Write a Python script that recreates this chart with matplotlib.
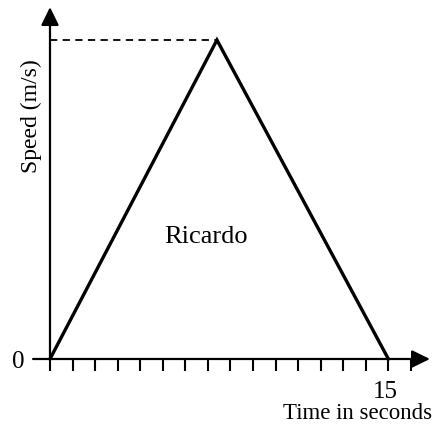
import matplotlib
matplotlib.use('Agg')
import matplotlib.pyplot as plt

# data (speed scale unknown, peak set to 10)
times = [0, 7.4, 15]
speeds = [0, 10, 0]
tick_pos = list(range(0, 17))
peak_t = times[1]
peak_v = speeds[1]

plt.rcParams['font.family'] = ['Liberation Serif', 'DejaVu Serif']

fig = plt.figure(figsize=(4.35, 4.24), dpi=100)
ax = fig.add_axes([0, 0, 1, 1])
ax.set_axis_off()
ax.set_xlim(-2.216, 17.066)
ax.set_ylim(-2.038, 11.254)

# axes with arrow heads
arr = dict(arrowstyle='-|>,head_length=0.55,head_width=0.27', lw=1.6,
           color='black', shrinkA=0, shrinkB=0, mutation_scale=20)
ax.annotate('', xy=(16.84, 0), xytext=(-0.75, 0), arrowprops=arr)
ax.annotate('', xy=(0, 11.03), xytext=(0, 0), arrowprops=arr)

# ticks on time axis
ax.vlines(tick_pos, -0.376, 0, colors='black', lw=1.5)

# the triangle
ax.plot(times, speeds, color='black', lw=2.4, solid_joinstyle='miter')

# dashed line to peak
ax.plot([0, peak_t], [peak_v, peak_v], color='black', lw=1.3, ls=(0, (4, 3)))

ax.text(-1.40, -0.09, '0', fontsize=18, ha='center', va='center')
ax.text(14.85, -1.03, '15', fontsize=18, ha='center', va='center')
ax.text(16.93, -1.72, 'Time in seconds', fontsize=16.5, ha='right', va='center')
ax.text(6.91, 3.82, 'Ricardo', fontsize=19, ha='center', va='center')
ax.text(-0.84, 7.62, 'Speed (m/s)', fontsize=17, ha='center', va='center',
        rotation=90)

plt.savefig('out.png', dpi=100)
